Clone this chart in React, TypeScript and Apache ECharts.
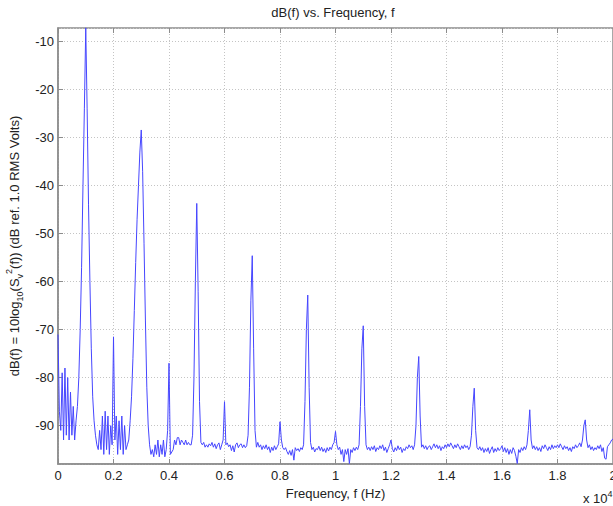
import React, { useEffect, useRef } from "react";
import * as echarts from "echarts";

// Frequency grid step (x 10^4 Hz)
const FREQ_STEP = 0.005;

// dB values, one row per 0.1 (x10^4 Hz)
const dbRow00 = [-71, -87, -91, -79, -93, -78, -92, -80, -93, -83, -92, -86, -93, -89, -86, -80, -70, -57, -40, -24];
const dbRow01 = [-7.1, -24, -44, -60, -74, -84, -89, -92, -94, -95, -91, -95, -88, -96, -87, -95, -88, -96, -90, -94];
const dbRow02 = [-71.5, -93, -88, -96, -89, -95, -88, -96, -90, -95, -94, -93, -89, -84, -76, -66, -56, -47, -40, -33];
const dbRow03 = [-28.4, -37, -52, -68, -82, -90, -94, -96, -95, -96.5, -94, -96, -93, -96.5, -94, -96, -93, -96.5, -95, -91];
const dbRow04 = [-77, -96, -95.5, -95, -93, -94, -92.5, -92.5, -94, -93, -93.5, -94, -93, -94, -93.5, -94, -94, -92, -80, -60];
const dbRow05 = [-43.7, -62, -85, -93.5, -94, -93.5, -94.5, -94, -94.5, -93.8, -94.2, -93.5, -94.5, -93.8, -94.8, -94, -93.6, -95, -94, -93];
const dbRow06 = [-85, -94, -93.6, -94.4, -94, -95.2, -94.2, -95.5, -94, -93.6, -94.6, -94, -93.8, -94.6, -94, -94.6, -94.2, -92, -82, -64];
const dbRow07 = [-54.6, -74, -91, -94.5, -93.5, -94.5, -94, -95, -94.2, -94.8, -94, -95, -94.4, -95.6, -94.5, -95.2, -94.2, -95, -94.4, -93.8];
const dbRow08 = [-89.2, -93, -94.6, -95, -94.6, -95.4, -96, -95.2, -96.2, -95, -97.2, -94.6, -95.2, -94.8, -95.4, -94.6, -95, -94, -85, -70];
const dbRow09 = [-62.8, -82, -93.5, -95, -94.5, -95.5, -94.8, -95, -94.3, -95.2, -94.5, -95.4, -94.8, -95.6, -94.6, -95.3, -94.5, -95, -94, -93.5];
const dbRow10 = [-91.2, -94, -95, -94.5, -96, -95, -97.5, -95, -96, -94.8, -97.9, -95, -95.6, -94.6, -95.2, -94.5, -95, -94, -86, -74];
const dbRow11 = [-69.2, -86, -94, -95, -94.5, -95.2, -94.4, -95, -94.2, -95.4, -94.6, -95, -94.2, -94.8, -94, -95.2, -94.5, -95.6, -94.8, -94];
const dbRow12 = [-93, -94.8, -95.5, -94.6, -95.2, -94.2, -95, -94.5, -95.6, -94.8, -95.2, -94.4, -94.8, -94, -94.6, -94.2, -95, -94, -90, -80];
const dbRow13 = [-75.6, -88, -94.5, -94, -94.8, -94.2, -95, -94.4, -94.2, -95, -94.4, -93.8, -94.6, -94, -94.8, -94.2, -95.2, -94.4, -94.8, -94];
const dbRow14 = [-94.6, -93.8, -94.4, -93.6, -94.2, -94.8, -94, -94.6, -93.8, -94.4, -95, -94.2, -94.8, -94, -94.6, -94.2, -95, -94.4, -92, -86];
const dbRow15 = [-82.2, -91, -94.6, -95, -94.4, -95.2, -94.6, -95.6, -94.8, -95.4, -94.6, -95.8, -95, -94.4, -95.6, -94.8, -95.4, -94.6, -95.2, -94.8];
const dbRow16 = [-94.2, -95.4, -94.6, -95.6, -94.8, -96, -95, -95.8, -94.6, -95.2, -96.4, -97.9, -95, -95.6, -94.6, -95.2, -94.4, -95, -94, -91];
const dbRow17 = [-86.7, -93, -94.8, -94.2, -95, -94.4, -95.2, -94.6, -95.4, -94.2, -94.8, -94, -94.6, -95.2, -94.4, -95, -94, -94.8, -94.2, -94.6];
const dbRow18 = [-94, -94.6, -93.8, -94.4, -95, -94.2, -94.8, -94.4, -95.2, -94.6, -95.4, -94.4, -94.8, -94, -94.6, -94.2, -93.6, -94.4, -93, -90];
const dbRow19 = [-88.8, -93, -94.6, -94, -95, -94.4, -95.2, -94.6, -95, -94.2, -94.8, -94, -95.4, -94.6, -96.8, -97, -94.4, -94, -93.6, -93];
const dbEnd = [-92.8];

const dbValues = [
  ...dbRow00, ...dbRow01, ...dbRow02, ...dbRow03, ...dbRow04,
  ...dbRow05, ...dbRow06, ...dbRow07, ...dbRow08, ...dbRow09,
  ...dbRow10, ...dbRow11, ...dbRow12, ...dbRow13, ...dbRow14,
  ...dbRow15, ...dbRow16, ...dbRow17, ...dbRow18, ...dbRow19,
  ...dbEnd,
];

const X_MIN = 0;
const X_MAX = 2;
const X_INTERVAL = 0.2;
const Y_MIN = -98;
const Y_MAX = -7.15;

const TITLE = "dB(f) vs. Frequency, f";
const X_NAME = "Frequency, f (Hz)";

const FONT = "'Liberation Sans', Arial, Helvetica, sans-serif";

export default function App() {
  const ref = useRef<HTMLDivElement | null>(null);

  useEffect(() => {
    document.body.style.margin = "0";
    if (!ref.current) return;
    const chart = echarts.init(ref.current, undefined, { renderer: "svg" });

    const data = dbValues.map((v, i) => [+(i * FREQ_STEP).toFixed(4), v]);

    const frame = "#8c8c8c";
    const gridLine = {
      show: true,
      lineStyle: { color: "#c4c4c4", type: [1, 2] as any, width: 1 },
    };

    chart.setOption({
      animation: false,
      backgroundColor: "#ffffff",
      title: {
        text: TITLE,
        left: 333,
        top: 6,
        textAlign: "center",
        padding: 0,
        textStyle: { fontFamily: FONT, fontSize: 13, fontWeight: "normal", color: "#222" },
      },
      grid: {
        left: 58,
        right: 0,
        top: 28,
        bottom: 42,
        containLabel: false,
        outerBoundsMode: "none",
        show: true,
        borderColor: frame,
        borderWidth: 1.5,
        backgroundColor: "transparent",
      },
      xAxis: [
        {
          type: "value",
          min: X_MIN,
          max: X_MAX,
          interval: X_INTERVAL,
          position: "bottom",
          name: X_NAME,
          nameLocation: "middle",
          nameGap: 21,
          nameTextStyle: { fontFamily: FONT, fontSize: 13, color: "#222" },
          axisLine: { show: true, lineStyle: { color: frame, width: 1.5 } },
          axisTick: { show: true, inside: true, length: 5, lineStyle: { color: frame } },
          axisLabel: {
            margin: 5,
            fontFamily: FONT,
            fontSize: 13,
            color: "#222",
            hideOverlap: false,
            formatter: (v: number) => String(+v.toFixed(1)),
          },
          splitLine: gridLine,
        },
        {
          type: "value",
          min: X_MIN,
          max: X_MAX,
          interval: X_INTERVAL,
          position: "top",
          axisLine: { show: false },
          axisTick: { show: true, inside: true, length: 5, lineStyle: { color: frame } },
          axisLabel: { show: false },
          splitLine: { show: false },
        },
      ],
      yAxis: {
        type: "value",
        min: Y_MIN,
        max: Y_MAX,
        minInterval: 10,
        maxInterval: 10,
        name:
          "dB(f) = 10log{sub|10}(S{sub|v}{sup|2}(f)) (dB ref. 1.0 RMS Volts)",
        nameLocation: "middle",
        nameRotate: 90,
        nameGap: 32,
        nameTextStyle: {
          fontFamily: FONT,
          fontSize: 13,
          color: "#222",
          lineHeight: 20,
          rich: {
            sub: { fontFamily: FONT, fontSize: 9, lineHeight: 10, verticalAlign: "bottom", color: "#222" },
            sup: { fontFamily: FONT, fontSize: 9, lineHeight: 10, verticalAlign: "top", color: "#222" },
          },
        },
        axisLine: { show: true, lineStyle: { color: frame, width: 1.5 } },
        axisTick: { show: true, inside: true, length: 5, lineStyle: { color: frame } },
        axisLabel: {
          margin: 4,
          fontFamily: FONT,
          fontSize: 13,
          color: "#222",
          showMinLabel: false,
          showMaxLabel: false,
          formatter: (v: number) => (Math.abs(v % 10) < 1e-6 ? String(Math.round(v)) : ""),
        },
        splitLine: gridLine,
      },
      graphic: [
        {
          type: "text",
          left: 583,
          top: 489,
          style: {
            text: "x 10{sup|4}",
            fontFamily: FONT,
            fontSize: 13,
            fill: "#222",
            lineHeight: 18,
            rich: {
              sup: { fontFamily: FONT, fontSize: 9, lineHeight: 9, verticalAlign: "top", fill: "#222" },
            },
          },
        },
      ],
      series: [
        {
          type: "line",
          data,
          xAxisIndex: 0,
          showSymbol: false,
          symbol: "none",
          clip: true,
          lineStyle: { color: "#4646ff", width: 1 },
        },
      ],
    });

    return () => chart.dispose();
  }, []);

  return (
    <div
      ref={ref}
      style={{ position: "absolute", left: 0, top: 0, width: 613, height: 506 }}
    />
  );
}
